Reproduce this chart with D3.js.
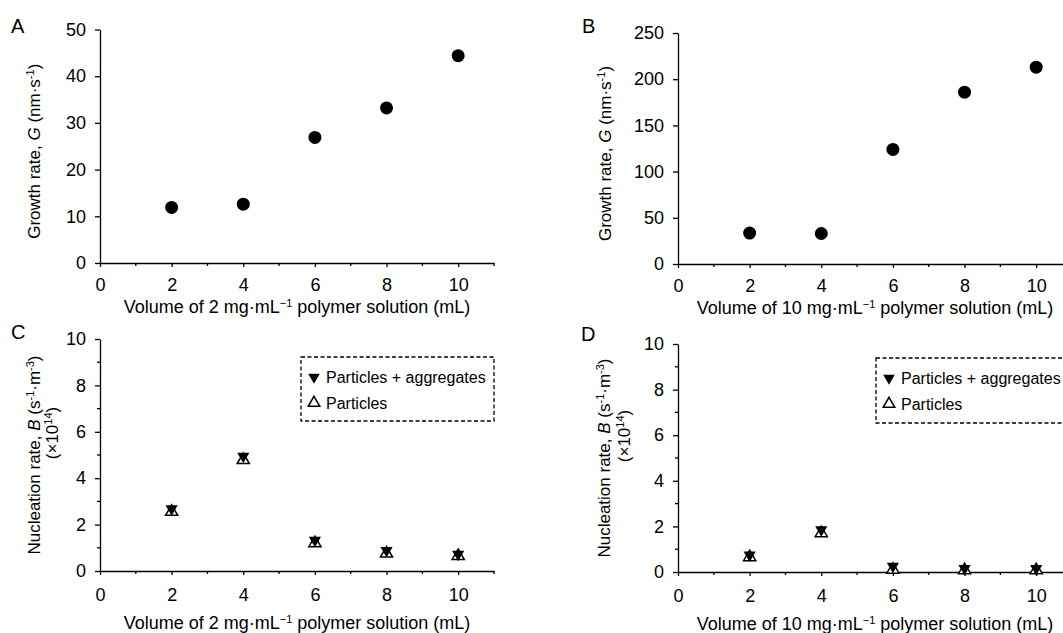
<!DOCTYPE html>
<html>
<head>
<meta charset="utf-8">
<script src="https://cdn.jsdelivr.net/npm/d3@7"></script>
<style>
  body { margin: 0; background: #fff; }
  svg { display: block; font-family: 'Liberation Sans', Arial, sans-serif; }
</style>
</head>
<body>
<svg id="chart" width="1063" height="633"></svg>
<script>
// data
const volumes = [2, 4, 6, 8, 10];
const xTicks = [0, 2, 4, 6, 8, 10];

const growthA = [11.9, 12.6, 26.9, 33.2, 44.4];
const growthB = [33.5, 33.0, 124, 186, 213];

const aggregatesC = [2.68, 4.95, 1.32, 0.88, 0.72];
const particlesC = [2.55, 4.78, 1.2, 0.75, 0.65];
const aggregatesD = [0.75, 1.85, 0.25, 0.15, 0.15];
const particlesD = [0.65, 1.7, 0.1, 0.08, 0.08];

const legendLabels = ['Particles + aggregates', 'Particles'];

const svg = d3.select('#chart');
const black = '#000';
const fs = '18px';
const yfs = '17px';
const sup = '11px';

function drawAxes(g, x, y, yTicks, yMinor, p) {
    const xAxis = d3.axisBottom(x).tickValues(xTicks).tickSize(4).tickPadding(p.xPad).tickSizeOuter(0);
    const gx = g.append('g').attr('transform', `translate(0,${y.range()[0]})`).call(xAxis);
    // minor x ticks
    gx.selectAll('.minor').data([1, 3, 5, 7, 9, 11]).enter().append('line')
        .attr('x1', d => x(d)).attr('x2', d => x(d))
        .attr('y1', 0).attr('y2', 3).attr('stroke', black).attr('stroke-width', 1.3);

    const yAxis = d3.axisLeft(y).tickValues(yTicks).tickSize(5).tickPadding(9).tickSizeOuter(0);
    const gy = g.append('g').attr('transform', `translate(${x.range()[0]},0)`).call(yAxis);
    if (yMinor) {
        gy.selectAll('.minor').data(yMinor).enter().append('line')
            .attr('x1', 0).attr('x2', -3)
            .attr('y1', d => y(d)).attr('y2', d => y(d))
            .attr('stroke', black).attr('stroke-width', 1.3);
    }

    [gx, gy].forEach(a => {
        a.select('.domain').attr('stroke', black).attr('stroke-width', 1.3);
        a.selectAll('.tick line').attr('stroke', black).attr('stroke-width', 1.3);
        a.selectAll('.tick text').attr('fill', black).style('font-size', fs)
            .style('font-family', "'Liberation Sans', Arial, sans-serif");
    });
}

function xTitle(g, x, y, conc, off) {
    const mid = (x.range()[0] + x.range()[1]) / 2;
    const t = g.append('text').attr('x', mid).attr('y', y.range()[0] + off)
        .attr('text-anchor', 'middle').style('font-size', fs);
    t.append('tspan').text(`Volume of ${conc} mg·mL`);
    t.append('tspan').attr('dy', -6).style('font-size', sup).text('−1');
    t.append('tspan').attr('dy', 6).text(' polymer solution (mL)');
}

function panelLetter(x, y, s) {
    svg.append('text').attr('x', x).attr('y', y).style('font-size', '20px').text(s);
}

function growthPanel(data, yMax, xr, yr, conc, letter, lp) {
    const x = d3.scaleLinear().domain([0, 11]).range(xr);
    const y = d3.scaleLinear().domain([0, yMax]).range(yr);
    const g = svg.append('g');
    drawAxes(g, x, y, d3.range(0, yMax + 1, yMax / 5), null, { xPad: 11 });

    g.selectAll('circle.pt').data(volumes).enter().append('circle')
        .attr('cx', d => x(d)).attr('cy', (d, i) => y(data[i])).attr('r', 6.5).attr('fill', black);

    xTitle(g, x, y, conc, 50);

    const cy = (yr[0] + yr[1]) / 2 + 5;
    const t = g.append('text').attr('transform', `translate(${lp},${cy}) rotate(-90)`)
        .attr('text-anchor', 'middle').style('font-size', yfs);
    t.append('tspan').text('Growth rate, ');
    t.append('tspan').style('font-style', 'italic').text('G');
    t.append('tspan').text(' (nm·s');
    t.append('tspan').attr('dy', -6).style('font-size', sup).text('-1');
    t.append('tspan').attr('dy', 6).text(')');

    panelLetter(letter[1], letter[2], letter[0]);
}

function nucleationPanel(agg, part, xr, yr, conc, letter, lp, box) {
    const x = d3.scaleLinear().domain([0, 11]).range(xr);
    const y = d3.scaleLinear().domain([0, 10]).range(yr);
    const g = svg.append('g');
    drawAxes(g, x, y, [0, 2, 4, 6, 8, 10], [1, 3, 5, 7, 9], { xPad: 13 });

    const up = d3.symbol().type(d3.symbolTriangle).size(64);

    g.selectAll('path.part').data(volumes).enter().append('path')
        .attr('d', up)
        .attr('transform', (d, i) => `translate(${x(d)},${y(part[i])})`)
        .attr('fill', '#fff').attr('stroke', black).attr('stroke-width', 1.5);
    g.selectAll('path.agg').data(volumes).enter().append('path')
        .attr('d', up)
        .attr('transform', (d, i) => `translate(${x(d)},${y(agg[i])}) rotate(180)`)
        .attr('fill', black);

    xTitle(g, x, y, conc, 58);

    const cy = (yr[0] + yr[1]) / 2;
    const t = g.append('text').attr('transform', `translate(${lp[0]},${cy}) rotate(-90)`)
        .attr('text-anchor', 'middle').style('font-size', yfs);
    t.append('tspan').text('Nucleation rate, ');
    t.append('tspan').style('font-style', 'italic').text('B');
    t.append('tspan').text(' (s');
    t.append('tspan').attr('dy', -6).style('font-size', sup).text('-1');
    t.append('tspan').attr('dy', 6).text('·m');
    t.append('tspan').attr('dy', -6).style('font-size', sup).text('-3');
    t.append('tspan').attr('dy', 6).text(')');

    const t2 = g.append('text').attr('transform', `translate(${lp[1]},${cy - 22}) rotate(-90)`)
        .attr('text-anchor', 'middle').style('font-size', yfs);
    t2.append('tspan').text('(×10');
    t2.append('tspan').attr('dy', -6).style('font-size', sup).text('14');
    t2.append('tspan').attr('dy', 6).text(')');

    // legend
    g.append('rect').attr('x', box[0]).attr('y', box[1]).attr('width', box[2]).attr('height', box[3])
        .attr('fill', 'none').attr('stroke', black).attr('stroke-width', 1.3).attr('stroke-dasharray', '4,2.5');
    const rows = g.selectAll('g.leg').data(legendLabels).enter().append('g')
        .attr('transform', (d, i) => `translate(${box[0] + 13},${box[1] + 20 + i * 26})`);
    rows.append('path').attr('d', d3.symbol().type(d3.symbolTriangle).size(58))
        .attr('transform', (d, i) => i === 0 ? 'rotate(180)' : null)
        .attr('fill', (d, i) => i === 0 ? black : '#fff')
        .attr('stroke', black).attr('stroke-width', (d, i) => i === 0 ? 0 : 1.5);
    rows.append('text').attr('x', 12).attr('y', 6).style('font-size', '16px').text(d => d);

    panelLetter(letter[1], letter[2], letter[0]);
}

growthPanel(growthA, 50, [100, 494], [263, 29.5], 2, ['A', 11, 33], 40);
growthPanel(growthB, 250, [678, 1072], [264, 33], 10, ['B', 582, 33], 611);
nucleationPanel(aggregatesC, particlesC, [100, 494], [571, 339], 2, ['C', 11, 339], [40, 58], [301, 357, 193, 64]);
nucleationPanel(aggregatesD, particlesD, [678, 1072], [572, 344], 10, ['D', 581, 341], [610, 630], [876, 358, 200, 65]);
</script>
</body>
</html>
